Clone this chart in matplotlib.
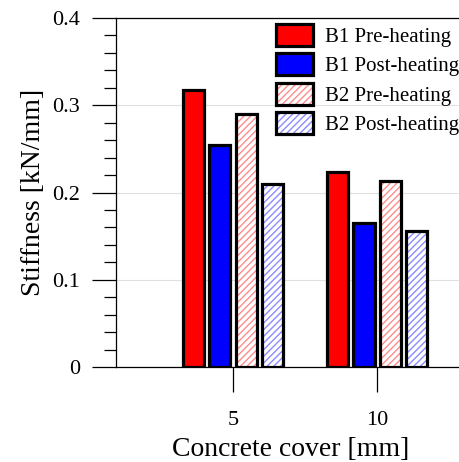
import matplotlib
matplotlib.use("Agg")
import matplotlib.pyplot as plt
from matplotlib.ticker import MultipleLocator
import numpy as np

plt.rcParams['font.family'] = ['Liberation Serif', 'DejaVu Serif']
plt.rcParams['hatch.linewidth'] = 1.0

covers = ["5", "10"]
b1_pre = [0.317, 0.224]
b1_post = [0.255, 0.165]
b2_pre = [0.290, 0.213]
b2_post = [0.210, 0.156]
yticks = [0, 0.1, 0.2, 0.3, 0.4]
ytick_labels = ["0", "0.1", "0.2", "0.3", "0.4"]

series = [
    ("B1 Pre-heating", b1_pre, "#ff0000", None),
    ("B1 Post-heating", b1_post, "#0000ff", None),
    ("B2 Pre-heating", b2_pre, "#ff8c8c", "/////"),
    ("B2 Post-heating", b2_post, "#8c8cff", "/////"),
]

fig = plt.figure(figsize=(4.6, 4.62), dpi=100)
ax = fig.add_axes([116/460, 95/462, 1 - 116/460 + 0.01, 349/462])

x = np.arange(len(covers))
step = 0.183
width = 0.148
handles = []
for i, (label, vals, color, hatch) in enumerate(series):
    pos = x + (i - 1.5) * step
    if hatch is None:
        b = ax.bar(pos, vals, width, color=color, edgecolor="black", linewidth=2.3, zorder=3)
        handles.append(b.patches[0])
    else:
        h = ax.bar(pos, vals, width, color="white", edgecolor=color, hatch=hatch,
                   linewidth=0, zorder=3)
        o = ax.bar(pos, vals, width, color="none", edgecolor="black", linewidth=2.3, zorder=4)
        handles.append((h.patches[0], o.patches[0]))

ax.set_xlim(-0.8125, 1.576 + 0.01 * 460 / 144)
ax.set_ylim(0, 0.4)
ax.set_xticks(x)
ax.set_xticklabels(covers)
ax.set_yticks(yticks)
ax.set_yticklabels(ytick_labels)
ax.yaxis.set_minor_locator(MultipleLocator(0.02))
ax.tick_params(axis="y", which="major", direction="out", length=17, width=0.9, labelsize=16, pad=9)
ax.tick_params(axis="y", which="minor", direction="out", length=8.5, width=0.9)
ax.tick_params(axis="x", which="major", direction="out", length=18, width=0.9, labelsize=16, pad=14)
ax.grid(axis="y", color="#e0e0e0", linewidth=0.8, zorder=0)
ax.set_axisbelow(True)
ax.spines["right"].set_visible(False)
for s in ["left", "bottom", "top"]:
    ax.spines[s].set_linewidth(0.9)

ax.set_xlabel("Concrete cover [mm]", fontsize=20, labelpad=5)
ax.set_ylabel("Stiffness [kN/mm]", fontsize=20, labelpad=4)

leg = ax.legend(handles, [s[0] for s in series], loc="upper right",
                bbox_to_anchor=(459/460, 1 - 24/462), bbox_transform=fig.transFigure,
                frameon=False, fontsize=15, handlelength=1.8, handleheight=1.25,
                labelspacing=0.3, handletextpad=0.55, borderaxespad=0, borderpad=0)

fig.savefig("out.png", dpi=100)
